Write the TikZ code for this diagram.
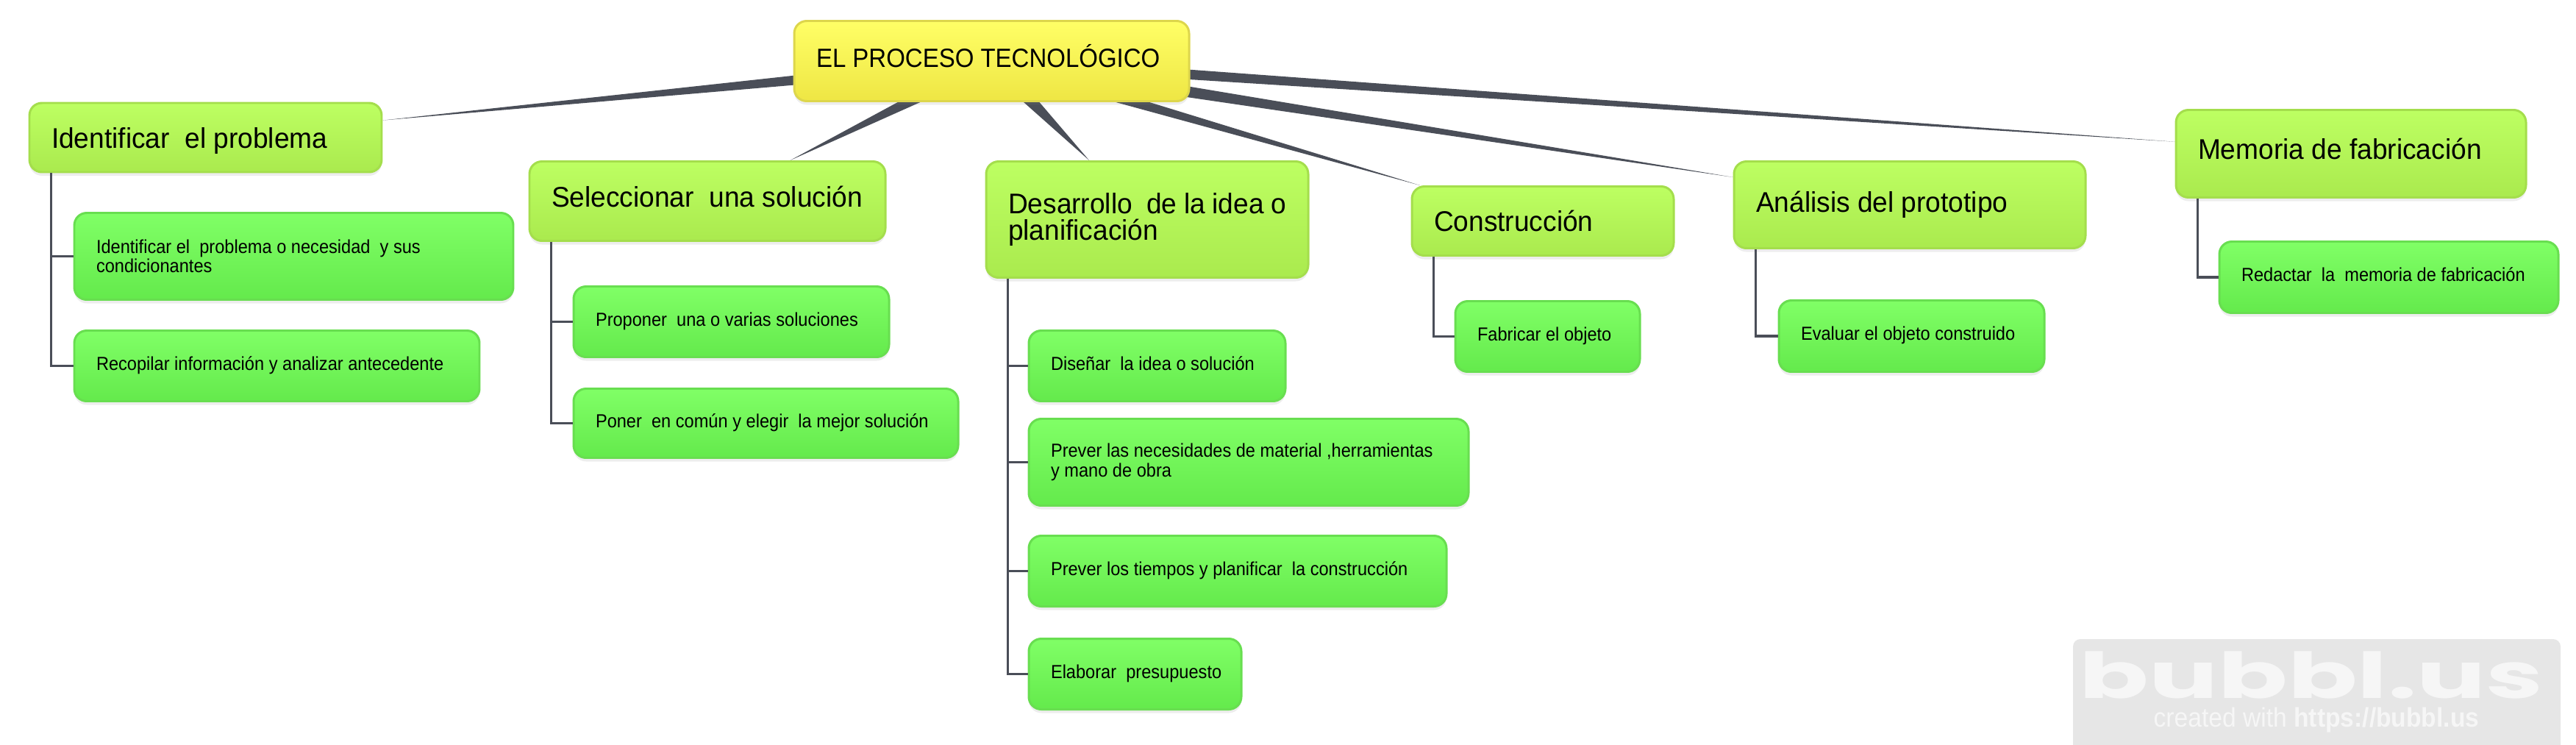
\documentclass[tikz,border=0pt]{standalone}
\usepackage{fontspec}
\setmainfont[FakeStretch=0.92]{Liberation Sans}
\newfontfamily\topicfont[FakeStretch=0.96]{Liberation Sans}
\newfontfamily\logofont[FakeStretch=1.62]{Poppins Bold}
\usetikzlibrary{calc,shadows,backgrounds}
\definecolor{linkgray}{HTML}{4A4E58}
\definecolor{limetop}{HTML}{BDFF62}
\definecolor{limelow}{HTML}{AAEA4E}
\definecolor{limeedge}{HTML}{A4DE4C}
\definecolor{greentop}{HTML}{80FF66}
\definecolor{greenlow}{HTML}{64EA4C}
\definecolor{greenedge}{HTML}{68DE50}
\definecolor{yellowtop}{HTML}{FFFF66}
\definecolor{yellowlow}{HTML}{EEE644}
\definecolor{yellowedge}{HTML}{DDD64C}
\definecolor{markgray}{HTML}{E6E6E6}
\definecolor{markwhite}{HTML}{F6F6F6}
\newcommand{\taperlink}[3]{%
  \path (#1) -- (#2) coordinate[pos=1] (tip);
  \fill[linkgray] ($(#1)!#3!90:(#2)$) -- (tip) -- ($(#1)!#3!-90:(#2)$) -- cycle;}
\begin{document}
\begin{tikzpicture}[
  % Node styles
  bubble/.style={rectangle, rounded corners=0.17cm, line width=0.85pt, align=flush left, inner xsep=0.30cm, inner ysep=0pt,
    text=black, drop shadow={shadow xshift=0cm, shadow yshift=-0.05cm, opacity=0.14}},
  dims/.style n args={2}{text width={(#1-0.6)*1cm}, minimum height=#2 cm},
  lift/.style={text depth=#1},
  root/.style={bubble, top color=yellowtop, middle color=yellowtop, bottom color=yellowlow, draw=yellowedge,
    font=\fontsize{10.2pt}{10pt}\selectfont},
  topic/.style={bubble, top color=limetop, middle color=limetop, bottom color=limelow, draw=limeedge,
    font=\topicfont\fontsize{11pt}{10pt}\selectfont},
  task/.style={bubble, top color=greentop, middle color=greentop, bottom color=greenlow, draw=greenedge,
    font=\fontsize{7.3pt}{7.5pt}\selectfont},
  onetask/.style={task, lift=0.07cm},
  % Edge styles
  branch/.style={draw=linkgray, line width=1.1pt},
]
\useasboundingbox (0,0) rectangle (35.03,-10.13);

% === CENTER: Root ===
\node[root, dims={5.37}{1.09}, lift=0.14cm] (proc) at (13.485,-0.83) {EL PROCESO TECNOLÓGICO};

% === TOPICS ===
\node[topic, dims={4.79}{0.94}, lift=0cm] (ident) at (2.795,-1.87) {Identificar\ \ el problema};
\node[topic, dims={4.84}{1.08}, lift=0.13cm] (selec) at (9.62,-2.735) {Seleccionar\ \ una solución};
\node[topic, dims={4.38}{1.58}] (desar) at (15.60,-2.985) {Desarrollo\ \ de la idea o\\planificación};
\node[topic, dims={3.56}{0.94}] (const) at (20.98,-3.005) {Construcción};
\node[topic, dims={4.78}{1.18}] (anali) at (25.97,-2.785) {Análisis del prototipo};
\node[topic, dims={4.76}{1.19}, lift=0.13cm] (memor) at (31.97,-2.09) {Memoria de fabricación};

% === TASKS ===
\node[task, dims={5.97}{1.18}] (identA) at (3.995,-3.485) {Identificar el\ \ problema o necesidad\ \ y sus\\condicionantes};
\node[onetask, dims={5.51}{0.96}] (identB) at (3.765,-4.975) {Recopilar información y analizar antecedente};
\node[onetask, dims={4.29}{0.96}] (selecA) at (9.945,-4.375) {Proponer\ \ una o varias soluciones};
\node[onetask, dims={5.23}{0.94}] (selecB) at (10.415,-5.755) {Poner\ \ en común y elegir\ \ la mejor solución};
\node[onetask, dims={3.49}{0.96}] (desarA) at (15.735,-4.975) {Diseñar\ \ la idea o solución};
\node[task, dims={5.98}{1.18}] (desarB) at (16.98,-6.285) {Prever las necesidades de material ,herramientas\\y mano de obra};
\node[onetask, dims={5.68}{0.96}] (desarC) at (16.83,-7.765) {Prever los tiempos y planificar\ \ la construcción};
\node[onetask, dims={2.89}{0.96}] (desarD) at (15.435,-9.165) {\mbox{Elaborar\ \ presupuesto}};
\node[onetask, dims={2.51}{0.96}] (constA) at (21.045,-4.575) {Fabricar el objeto};
\node[onetask, dims={3.61}{0.97}] (analiA) at (25.995,-4.57) {Evaluar el objeto construido};
\node[onetask, dims={4.61}{0.97}] (memorA) at (32.485,-3.77) {Redactar\ \ la\ \ memoria de fabricación};

% === WATERMARK ===
\fill[markgray, rounded corners=0.1cm] (28.19,-10.3) -- (28.19,-8.69) -- (34.82,-8.69) -- (34.82,-10.3);
\node[text=markwhite, inner sep=0pt, font=\logofont\fontsize{24.5pt}{24pt}\selectfont] (logo) at (31.43,-9.18) {bubbl.us};
\node[text=markwhite, inner sep=0pt, font=\fontsize{10.4pt}{10pt}\selectfont] (site) at (31.50,-9.79) {created with \textbf{https://bubbl.us}};

\begin{scope}[on background layer]
% ============================================================
% 1. TAPERED LINKS FROM THE ROOT
% ============================================================
\taperlink{proc}{ident}{0.095cm}
\taperlink{proc}{selec}{0.115cm}
\taperlink{proc}{desar}{0.13cm}
\taperlink{proc}{const}{0.095cm}
\taperlink{proc}{anali}{0.10cm}
\taperlink{proc}{memor}{0.08cm}
\end{scope}

% ============================================================
% 2. BRANCHES TO THE TASKS
% ============================================================
\draw[branch] ($(ident.south west)+(0.31,0)$) |- (identA.west);
\draw[branch] ($(ident.south west)+(0.31,0)$) |- (identB.west);
\draw[branch] ($(selec.south west)+(0.31,0)$) |- (selecA.west);
\draw[branch] ($(selec.south west)+(0.31,0)$) |- (selecB.west);
\draw[branch] ($(desar.south west)+(0.31,0)$) |- (desarA.west);
\draw[branch] ($(desar.south west)+(0.31,0)$) |- (desarB.west);
\draw[branch] ($(desar.south west)+(0.31,0)$) |- (desarC.west);
\draw[branch] ($(desar.south west)+(0.31,0)$) |- (desarD.west);
\draw[branch] ($(const.south west)+(0.31,0)$) |- (constA.west);
\draw[branch] ($(anali.south west)+(0.31,0)$) |- (analiA.west);
\draw[branch] ($(memor.south west)+(0.31,0)$) |- (memorA.west);

\end{tikzpicture}
\end{document}
